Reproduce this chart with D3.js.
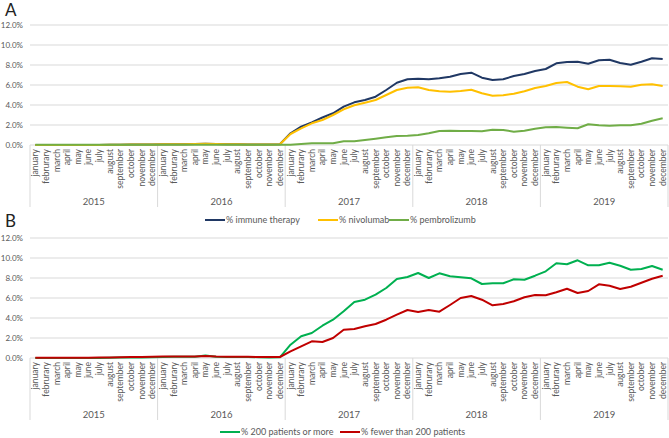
<!DOCTYPE html>
<html>
<head>
<meta charset="utf-8">
<script src="https://cdn.jsdelivr.net/npm/d3@7"></script>
<style>
  body { margin: 0; background: #fff; }
  text { font-family: Lato, "Open Sans", sans-serif; }
</style>
</head>
<body>
<div id="chart"></div>
<script>
// month names as printed on the axis (typo kept)
const monthNames = ["january", "februrary", "march", "april", "may", "june", "july",
  "august", "september", "october", "november", "december"];
const years = ["2015", "2016", "2017", "2018", "2019"];
const yTicks = [0, 2, 4, 6, 8, 10, 12];

// panel A (%)
const immuneTherapy = [
  0, 0, 0, 0, 0, 0, 0.01, 0.02, 0.03, 0.04, 0.05, 0.06,
  0.07, 0.08, 0.08, 0.1, 0.12, 0.1, 0.08, 0.08, 0.06, 0.05, 0.05, 0.08,
  1.17, 1.83, 2.27, 2.75, 3.17, 3.83, 4.27, 4.5, 4.83, 5.5, 6.23, 6.57,
  6.63, 6.57, 6.67, 6.83, 7.1, 7.23, 6.73, 6.5, 6.57, 6.9, 7.1, 7.4,
  7.6, 8.17, 8.3, 8.33, 8.13, 8.47, 8.53, 8.2, 8.03, 8.33, 8.67, 8.6
];
const nivolumab = [
  0, 0, 0, 0, 0, 0, 0.01, 0.02, 0.03, 0.04, 0.05, 0.06,
  0.07, 0.08, 0.08, 0.1, 0.12, 0.1, 0.08, 0.08, 0.06, 0.05, 0.05, 0.08,
  1.1, 1.67, 2.17, 2.5, 3.0, 3.57, 3.97, 4.23, 4.5, 5.0, 5.5, 5.73,
  5.77, 5.5, 5.37, 5.33, 5.4, 5.53, 5.17, 4.93, 4.97, 5.13, 5.37, 5.7,
  5.9, 6.2, 6.3, 5.83, 5.57, 5.9, 5.9, 5.87, 5.83, 6.03, 6.07, 5.9
];
const pembrolizumb = [
  0.02, 0.02, 0.02, 0.02, 0.02, 0.02, 0.02, 0.02, 0.02, 0.02, 0.02, 0.02,
  0.02, 0.02, 0.02, 0.02, 0.02, 0.02, 0.02, 0.02, 0.02, 0.02, 0.02, 0.02,
  0.03, 0.1, 0.17, 0.17, 0.17, 0.37, 0.37, 0.5, 0.63, 0.77, 0.9, 0.93,
  1.0, 1.17, 1.4, 1.43, 1.4, 1.4, 1.37, 1.53, 1.5, 1.33, 1.43, 1.63,
  1.77, 1.8, 1.73, 1.67, 2.07, 1.97, 1.93, 1.97, 1.97, 2.13, 2.43, 2.67
];

// panel B (%)
const largeCenters = [
  0, 0, 0, 0, 0, 0, 0, 0.02, 0.04, 0.05, 0.06, 0.08,
  0.1, 0.12, 0.12, 0.12, 0.25, 0.12, 0.1, 0.1, 0.1, 0.08, 0.06, 0.07,
  1.33, 2.17, 2.5, 3.23, 3.83, 4.67, 5.6, 5.83, 6.33, 7.0, 7.9, 8.1,
  8.5, 8.0, 8.47, 8.17, 8.07, 7.97, 7.4, 7.47, 7.47, 7.87, 7.83, 8.23,
  8.67, 9.47, 9.37, 9.77, 9.27, 9.27, 9.53, 9.23, 8.83, 8.9, 9.2, 8.83
];
const smallCenters = [
  0.02, 0.02, 0.02, 0.02, 0.02, 0.03, 0.04, 0.06, 0.08, 0.1, 0.1, 0.12,
  0.14, 0.15, 0.15, 0.14, 0.2, 0.14, 0.12, 0.12, 0.12, 0.1, 0.1, 0.1,
  0.67, 1.17, 1.67, 1.6, 2.0, 2.83, 2.9, 3.17, 3.4, 3.83, 4.33, 4.8,
  4.6, 4.8, 4.63, 5.3, 6.0, 6.2, 5.83, 5.27, 5.4, 5.67, 6.07, 6.3,
  6.27, 6.57, 6.93, 6.5, 6.7, 7.37, 7.23, 6.9, 7.13, 7.53, 7.93, 8.23
];

const months = years.flatMap(y => monthNames.map(m => y + "-" + m));

const W = 669, H = 438;
const left = 30, right = 668;

const svg = d3.select("#chart").append("svg")
  .attr("width", W)
  .attr("height", H);

const x = d3.scaleBand().domain(months).range([left, right]).padding(0);
const xc = d => x(d) + x.bandwidth() / 2;

function panel(opts) {
  const g = svg.append("g");
  const y = d3.scaleLinear().domain([0, 12]).range([opts.y0, opts.y0 - 120]);

  // panel letter
  g.append("text")
    .attr("x", 5).attr("y", opts.letterY)
    .attr("font-size", 17)
    .attr("fill", "#222")
    .text(opts.letter);

  // gridlines + y labels
  g.selectAll(".grid").data(yTicks).enter().append("line")
    .attr("x1", left).attr("x2", right)
    .attr("y1", d => y(d)).attr("y2", d => y(d))
    .attr("stroke", "#d9d9d9").attr("stroke-width", 1);
  g.selectAll(".ylab").data(yTicks).enter().append("text")
    .attr("x", 23).attr("y", d => y(d) + 3)
    .attr("text-anchor", "end")
    .attr("font-size", 8)
    .attr("fill", "#595959")
    .text(d => d3.format(".1f")(d) + "%");

  // month labels
  g.selectAll(".mlab").data(months).enter().append("text")
    .attr("transform", d => `translate(${xc(d) + 3},${opts.y0 + 4}) rotate(-90)`)
    .attr("text-anchor", "end")
    .attr("font-size", 8.5)
    .attr("fill", "#595959")
    .text(d => d.split("-")[1]);

  // year separators and labels
  const bounds = years.map(yr => x(yr + "-january")).concat([right]);
  g.selectAll(".ysep").data(bounds).enter().append("line")
    .attr("x1", d => d).attr("x2", d => d)
    .attr("y1", opts.y0).attr("y2", opts.y0 + 62)
    .attr("stroke", "#d9d9d9");
  g.selectAll(".yrlab").data(years).enter().append("text")
    .attr("x", d => (x(d + "-june") + x(d + "-july") + x.bandwidth()) / 2)
    .attr("y", opts.y0 + 60)
    .attr("text-anchor", "middle")
    .attr("font-size", 9.5)
    .attr("fill", "#595959")
    .text(d => d);

  // lines
  const line = d3.line()
    .x((d, i) => xc(months[i]))
    .y(d => y(d));
  opts.series.forEach(s => {
    g.append("path")
      .datum(s.values)
      .attr("d", line)
      .attr("fill", "none")
      .attr("stroke", s.color)
      .attr("stroke-width", 2)
      .attr("stroke-linejoin", "round");
  });

  // legend
  opts.series.forEach(s => {
    g.append("line")
      .attr("x1", s.lx).attr("x2", s.lx + 20)
      .attr("y1", opts.legendY).attr("y2", opts.legendY)
      .attr("stroke", s.color).attr("stroke-width", 2);
    g.append("text")
      .attr("x", s.lx + 21).attr("y", opts.legendY + 3)
      .attr("font-size", 9)
      .attr("fill", "#595959")
      .text(s.name);
  });
}

panel({
  letter: "A", letterY: 16, y0: 145, legendY: 220,
  series: [
    { name: "% immune therapy", values: immuneTherapy, color: "#203864", lx: 205 },
    { name: "% nivolumab", values: nivolumab, color: "#ffc000", lx: 318 },
    { name: "% pembrolizumb", values: pembrolizumb, color: "#70ad47", lx: 389 }
  ]
});

panel({
  letter: "B", letterY: 227, y0: 358, legendY: 432,
  series: [
    { name: "% 200 patients or more", values: largeCenters, color: "#00b050", lx: 220 },
    { name: "% fewer than 200 patients", values: smallCenters, color: "#c00000", lx: 340 }
  ]
});
</script>
</body>
</html>
